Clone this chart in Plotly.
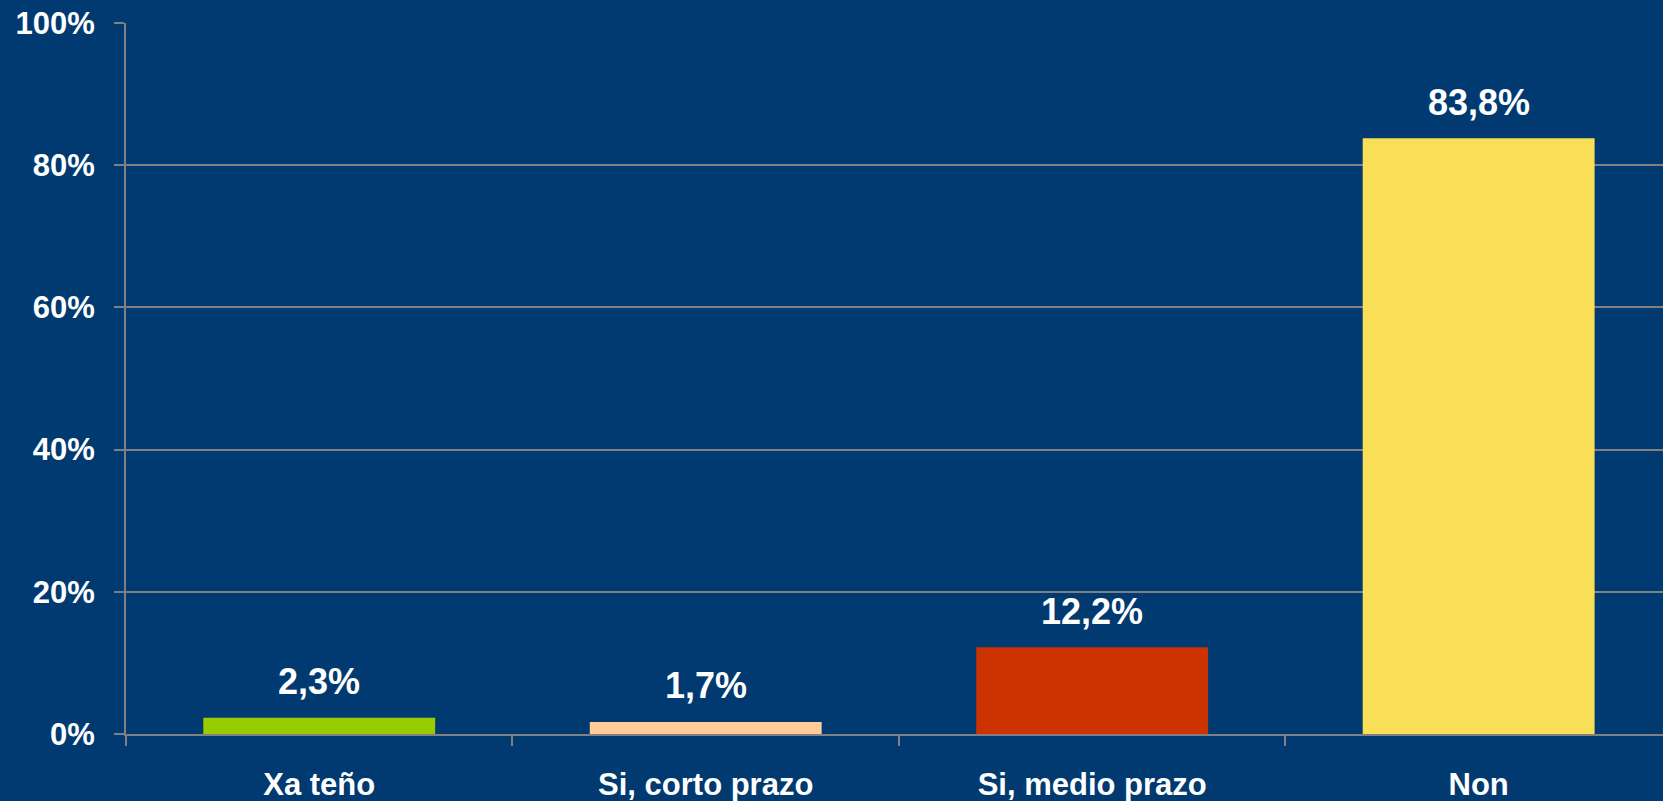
import plotly.graph_objects as go

categories = ["Xa teño", "Si, corto prazo", "Si, medio prazo", "Non"]
values = [2.3, 1.7, 12.2, 83.8]
value_labels = ["2,3%", "1,7%", "12,2%", "83,8%"]
colors = ["#99CC00", "#FFCC99", "#CC3300", "#F9DF57"]
y_ticks = [0, 20, 40, 60, 80, 100]
y_tick_labels = ["0%", "20%", "40%", "60%", "80%", "100%"]

BG = "#003A70"
GRID = "#808080"
FONT = "Arial, Liberation Sans, sans-serif"

fig = go.Figure()
fig.add_trace(go.Bar(
    x=categories, y=values, marker=dict(color=colors, line=dict(width=0)),
    hoverinfo="skip",
))

for c, v, t in zip(categories, values, value_labels):
    fig.add_annotation(
        x=c, y=v, text=t, showarrow=False, yanchor="middle", yshift=36,
        font=dict(family=FONT, size=36, color="white", weight="bold"),
    )

fig.update_layout(
    width=1663, height=801,
    paper_bgcolor=BG, plot_bgcolor=BG,
    margin=dict(l=126, r=0, t=23, b=67),
    bargap=0.4,
    showlegend=False,
)
fig.update_xaxes(
    range=[-0.5, 3.477],
    showgrid=False,
    showline=True, linecolor=GRID, linewidth=2,
    ticks="outside", tickson="boundaries", ticklen=10, tickwidth=2, tickcolor=GRID,
    tickfont=dict(family=FONT, size=31, color="white", weight="bold"),
    ticklabelstandoff=22,
)
fig.update_yaxes(
    range=[0, 100],
    tickmode="array", tickvals=y_ticks, ticktext=y_tick_labels,
    showgrid=True, gridcolor=GRID, gridwidth=2,
    showline=True, linecolor=GRID, linewidth=2,
    ticks="outside", ticklen=10, tickwidth=2, tickcolor=GRID,
    tickfont=dict(family=FONT, size=31, color="white", weight="bold"),
    ticklabelstandoff=13,
    zeroline=False,
)

fig.write_html(
    "out.html",
    config={"displayModeBar": False},
    post_script="document.body.style.margin='0';document.body.style.background='%s';" % BG,
)
